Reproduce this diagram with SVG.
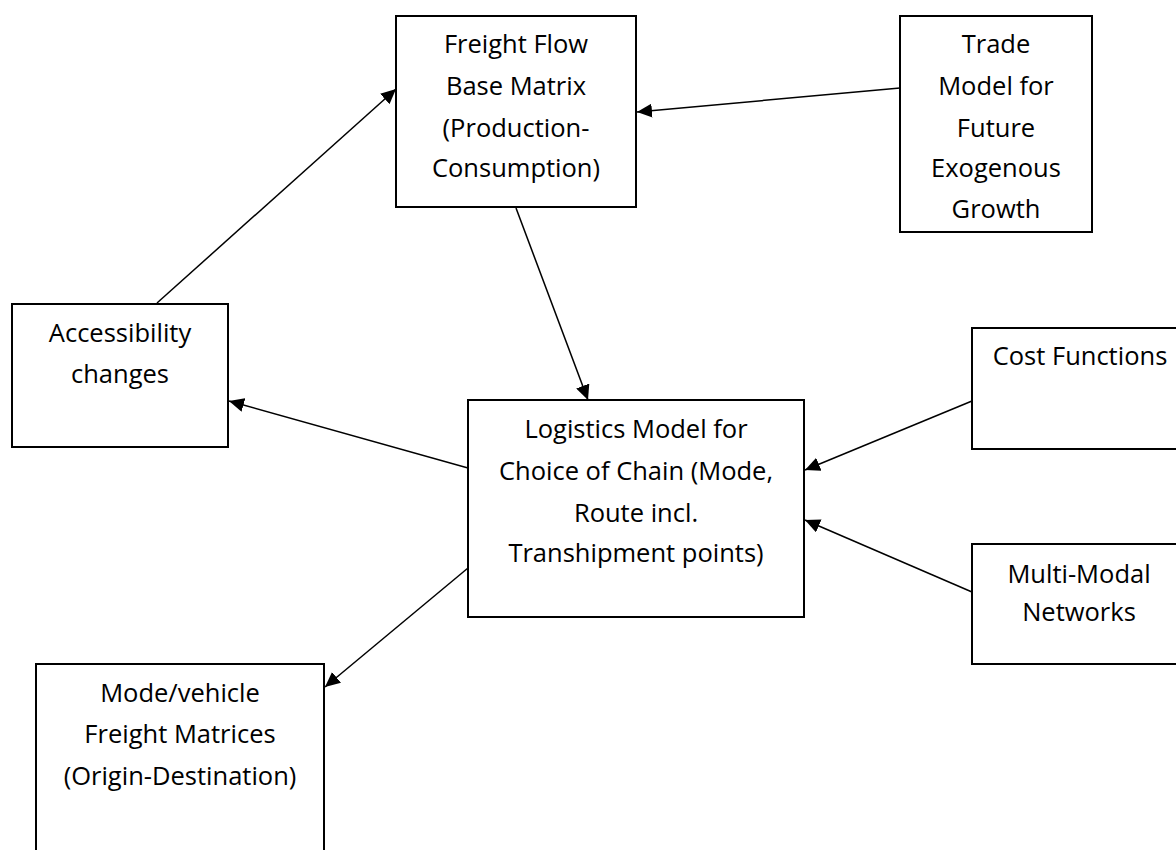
<svg xmlns="http://www.w3.org/2000/svg" width="1176" height="850" viewBox="0 0 1176 850">
<defs>
<style>
.box{fill:#fff;stroke:#000;stroke-width:2}
.t{font-family:"Open Sans","Liberation Sans",sans-serif;font-size:25.5px;fill:#000;text-anchor:middle}
.c{stroke:#000;stroke-width:1.5;fill:none;marker-end:url(#ah)}
</style>
<marker id="ah" markerUnits="userSpaceOnUse" markerWidth="16" markerHeight="14" refX="15" refY="7" orient="auto">
<path d="M0,0 L15,7 L0,14 Z" fill="#000"/>
</marker>
</defs>
<rect width="1176" height="850" fill="#fff"/>
<g id="freight-flow">
<rect class="box" x="396" y="16" width="240" height="191"/>
<text class="t" x="516" y="53">Freight Flow</text>
<text class="t" x="516" y="95">Base Matrix</text>
<text class="t" x="516" y="137">(Production-</text>
<text class="t" x="516" y="177">Consumption)</text>
</g>
<g id="trade-model">
<rect class="box" x="900" y="16" width="192" height="216"/>
<text class="t" x="996" y="53">Trade</text>
<text class="t" x="996" y="95">Model for</text>
<text class="t" x="996" y="137">Future</text>
<text class="t" x="996" y="177">Exogenous</text>
<text class="t" x="996" y="218">Growth</text>
</g>
<g id="accessibility">
<rect class="box" x="12" y="304" width="216" height="143"/>
<text class="t" x="120" y="342">Accessibility</text>
<text class="t" x="120" y="383">changes</text>
</g>
<g id="cost-functions">
<rect class="box" x="972" y="328" width="220" height="121"/>
<text class="t" x="1080" y="365">Cost Functions</text>
</g>
<g id="logistics-model">
<rect class="box" x="468" y="400" width="336" height="217"/>
<text class="t" x="636" y="438">Logistics Model for</text>
<text class="t" x="636" y="480">Choice of Chain (Mode,</text>
<text class="t" x="636" y="522">Route incl.</text>
<text class="t" x="636" y="562">Transhipment points)</text>
</g>
<g id="multi-modal">
<rect class="box" x="972" y="544" width="220" height="120"/>
<text class="t" x="1079" y="583">Multi-Modal</text>
<text class="t" x="1079" y="621">Networks</text>
</g>
<g id="mode-vehicle">
<rect class="box" x="36" y="664" width="288" height="200"/>
<text class="t" x="180" y="702">Mode/vehicle</text>
<text class="t" x="180" y="743">Freight Matrices</text>
<text class="t" x="180" y="785">(Origin-Destination)</text>
</g>
<g id="connectors">
<line class="c" x1="157" y1="303" x2="396" y2="89"/>
<line class="c" x1="900" y1="88" x2="637" y2="112"/>
<line class="c" x1="516" y1="208" x2="588" y2="400"/>
<line class="c" x1="468" y1="468" x2="229" y2="401"/>
<line class="c" x1="972" y1="401" x2="805" y2="470"/>
<line class="c" x1="972" y1="592" x2="805" y2="520"/>
<line class="c" x1="468" y1="568" x2="325" y2="687"/>
</g>
</svg>
